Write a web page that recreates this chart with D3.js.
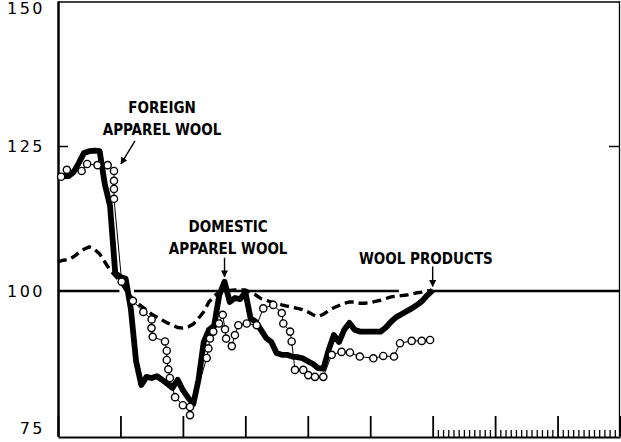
<!DOCTYPE html>
<html>
<head>
<meta charset="utf-8">
<script src="https://cdn.jsdelivr.net/npm/d3@7"></script>
<style>
  html, body { margin: 0; padding: 0; background: #fff; }
  svg { display: block; }
  .lbl { font-family: "DejaVu Sans", sans-serif; font-size: 16px; letter-spacing: 2.5px; fill: #000; }
  .note { font-family: "DejaVu Sans Condensed", "DejaVu Sans", sans-serif; font-weight: bold; font-size: 15px; fill: #000; }
</style>
</head>
<body>
<div id="chart"></div>
<script>
// index scale, months from the start of the first year
const yTicks = [75, 100, 125, 150];
const yearTicks = d3.range(0, 109, 12);
const monthTicks = d3.range(73, 108).filter((m) => m % 12 !== 0);

// domestic apparel wool, one value per month (m0..m72)
const domestic = [
  119.8, 119.8, 119.8, 120.5, 122.1, 123.8, 124.1, 124.2, 124.1, 118.4,
  114.7, 103.1, 102.4, 102.1, 96.9, 87.9, 83.8, 85.2, 85.0, 85.3,
  84.7, 84.0, 83.3, 84.7, 82.9, 81.6, 80.5, 84.7, 91.2, 93.3,
  94.0, 99.3, 101.6, 98.1, 98.8, 98.6, 99.8, 95.3, 94.7, 93.3,
  91.9, 91.2, 89.3, 89.0, 89.0, 88.7, 88.6, 88.4, 87.9, 87.4,
  86.7, 86.6, 89.8, 92.4, 91.2, 93.3, 94.5, 93.3, 93.0, 93.0,
  93.0, 93.0, 93.0, 93.7, 94.7, 95.5, 96.0, 96.5, 97.0, 97.6,
  98.3, 99.3, 100.1
];

// wool products, one value per month (m0..m72)
const woolProducts = [
  105.0, 105.3, 105.4, 105.9, 106.6, 107.2, 107.6, 107.2, 106.4, 105.0,
  103.6, 102.6, 101.7, 100.2, 99.0, 98.1, 97.4, 96.7, 96.0, 95.5,
  95.0, 94.5, 94.1, 93.7, 93.6, 93.8, 94.3, 95.3, 96.4, 98.1,
  99.1, 99.8, 100.0, 100.1, 100.2, 100.2, 100.2, 99.7, 99.3, 98.7,
  98.4, 98.1, 97.9, 97.6, 97.4, 97.2, 97.0, 96.8, 96.4, 95.9,
  95.6, 96.0, 96.6, 97.1, 97.5, 97.9, 98.1, 98.1, 97.9, 97.9,
  98.0, 98.2, 98.4, 98.7, 99.0, 99.1, 99.2, 99.3, 99.5, 99.7,
  99.8, 100.0, 100.1
];

// foreign apparel wool, circled points [month, value]
const foreign = [
  [0.6, 119.7], [1.7, 120.9], [4.55, 120.7], [5.6, 121.9], [7.6, 121.7],
  [9.55, 121.7], [10.76, 120.7], [10.76, 119.0], [10.76, 117.6], [10.76, 115.9],
  [12.24, 101.6], [14.4, 98.3], [16.4, 96.4], [18.0, 95.1], [17.97, 93.6],
  [18.2, 92.1], [20.56, 91.3], [20.9, 89.7], [20.9, 88.1], [21.2, 86.5],
  [21.5, 85.0], [22.5, 81.7], [24.0, 80.3], [25.37, 80.0], [25.37, 78.6],
  [28.57, 88.45], [28.9, 90.1], [29.2, 91.8], [29.84, 93.0], [30.94, 94.4],
  [31.65, 95.9], [32.1, 93.4], [32.3, 91.8], [33.4, 90.5], [34.0, 92.4],
  [34.65, 94.1], [36.26, 94.4], [38.18, 94.1], [39.45, 97.0], [41.37, 97.6],
  [43.0, 96.2], [43.3, 94.4], [44.6, 93.0], [44.9, 91.3], [45.54, 86.4],
  [47.14, 86.4], [48.1, 85.5], [49.38, 85.2], [50.98, 85.2], [52.6, 89.0],
  [54.5, 89.5], [56.1, 89.4], [58.0, 88.7], [60.6, 88.4], [62.5, 88.8],
  [64.57, 88.7], [65.72, 91.0], [67.97, 91.4], [69.9, 91.4], [71.5, 91.55]
];

// pieces of the 100 line (months); gaps where the drafting left them
const refSegments = [[0, 11.8], [14.6, 65.5], [72.0, 108]];

const notes = [
  { lines: ['FOREIGN', 'APPAREL WOOL'], cx: 20.0, base: 135 },
  { lines: ['DOMESTIC', 'APPAREL WOOL'], cx: 32.7, base: 253.5 },
  { lines: ['WOOL PRODUCTS'], cx: 70.7, base: 263.5 }
];

const width = 621;
const height = 442;

const x = d3.scaleLinear().domain([0, 108]).range([58, 620]);
const y = d3.scaleLinear().domain([75, 150]).range([436, 1]);

const svg = d3.select('#chart')
  .append('svg')
  .attr('width', width)
  .attr('height', height);

svg.append('defs').append('marker')
  .attr('id', 'head')
  .attr('viewBox', '0 0 10 10')
  .attr('refX', 9).attr('refY', 5)
  .attr('markerWidth', 7).attr('markerHeight', 7)
  .attr('markerUnits', 'userSpaceOnUse')
  .attr('orient', 'auto')
  .append('path')
  .attr('d', 'M0,0 L10,5 L0,10 Z')
  .attr('fill', '#000');

// frame: top and right
svg.append('line')
  .attr('x1', x(0)).attr('x2', x(108))
  .attr('y1', y(150) + 1).attr('y2', y(150) + 1)
  .attr('stroke', '#000').attr('stroke-width', 1.5);
svg.append('line')
  .attr('x1', x(108) - 0.5).attr('x2', x(108) - 0.5)
  .attr('y1', y(150)).attr('y2', y(75))
  .attr('stroke', '#000').attr('stroke-width', 1.3);

// left axis with inward ticks
const yAxisL = svg.append('g')
  .attr('transform', `translate(${x(0)},0)`)
  .call(d3.axisRight(y).tickValues([125]).tickSize(10).tickSizeOuter(0).tickFormat(''));
const yAxisR = svg.append('g')
  .attr('transform', `translate(${x(108)},0)`)
  .call(d3.axisLeft(y).tickValues([125]).tickSize(11).tickSizeOuter(0).tickFormat(''));
yAxisL.select('.domain').attr('stroke-width', 2.5);
yAxisR.select('.domain').remove();
svg.selectAll('.tick line').attr('stroke-width', 1.5);

// bottom axis: years and months
const xAxis = svg.append('g')
  .attr('transform', `translate(0,${y(75) + 1})`)
  .call(d3.axisTop(x).tickValues(yearTicks).tickSize(21).tickSizeOuter(0).tickFormat(''));
xAxis.select('.domain').attr('stroke-width', 2.2);
xAxis.selectAll('.tick line').attr('stroke-width', 1.8);
const xMinor = svg.append('g')
  .attr('transform', `translate(0,${y(75) + 1})`)
  .call(d3.axisTop(x).tickValues(monthTicks).tickSize(7).tickSizeOuter(0).tickFormat(''));
xMinor.select('.domain').remove();
xMinor.selectAll('.tick line').attr('stroke-width', 1.3);

// y labels
svg.append('g').selectAll('text')
  .data(yTicks)
  .join('text')
  .attr('class', 'lbl')
  .attr('x', 45)
  .attr('y', (d) => Math.min(Math.max(y(d), 8), 428))
  .attr('text-anchor', 'end')
  .attr('dominant-baseline', 'central')
  .text((d) => d);

// 100 reference line
svg.append('g').selectAll('line')
  .data(refSegments)
  .join('line')
  .attr('x1', (d) => x(d[0])).attr('x2', (d) => x(d[1]))
  .attr('y1', y(100)).attr('y2', y(100))
  .attr('stroke', '#000').attr('stroke-width', 2.6);

const line = d3.line().x((d, i) => x(i)).y((d) => y(d));

// wool products (dashed)
svg.append('path')
  .datum(woolProducts)
  .attr('d', line)
  .attr('fill', 'none')
  .attr('stroke', '#000')
  .attr('stroke-width', 3.4)
  .attr('stroke-dasharray', '9,5');

// domestic apparel wool (heavy)
svg.append('path')
  .datum(domestic)
  .attr('d', line)
  .attr('fill', 'none')
  .attr('stroke', '#000')
  .attr('stroke-width', 5.8)
  .attr('stroke-linejoin', 'round');

// foreign apparel wool (circles)
svg.append('path')
  .datum(foreign)
  .attr('d', d3.line().x((d) => x(d[0])).y((d) => y(d[1])))
  .attr('fill', 'none')
  .attr('stroke', '#000')
  .attr('stroke-width', 1);
svg.append('g').selectAll('circle')
  .data(foreign)
  .join('circle')
  .attr('cx', (d) => x(d[0]))
  .attr('cy', (d) => y(d[1]))
  .attr('r', 3.6)
  .attr('fill', '#fff')
  .attr('stroke', '#000')
  .attr('stroke-width', 1.4);

// notes
notes.forEach((n) => {
  const t = svg.append('text')
    .attr('class', 'note')
    .attr('text-anchor', 'middle');
  n.lines.forEach((s, i) => {
    t.append('tspan')
      .attr('x', x(n.cx))
      .attr('y', n.base - (n.lines.length - 1 - i) * 21.7)
      .text(s);
  });
});

// arrows, tips placed at the series they name
const fp = foreign[6];
const arrows = [
  { x1: x(fp[0]) + 21, y1: y(fp[1]) - 30, x2: x(fp[0]) + 7, y2: y(fp[1]) - 7 },
  { x1: x(32), y1: y(domestic[32]) - 24, x2: x(32), y2: y(domestic[32]) - 5 },
  { x1: x(72), y1: y(woolProducts[72]) - 24, x2: x(72), y2: y(woolProducts[72]) - 4 }
];
svg.append('g').selectAll('line')
  .data(arrows)
  .join('line')
  .attr('x1', (d) => d.x1).attr('y1', (d) => d.y1)
  .attr('x2', (d) => d.x2).attr('y2', (d) => d.y2)
  .attr('stroke', '#000')
  .attr('stroke-width', 1.4)
  .attr('marker-end', 'url(#head)');
</script>
</body>
</html>
